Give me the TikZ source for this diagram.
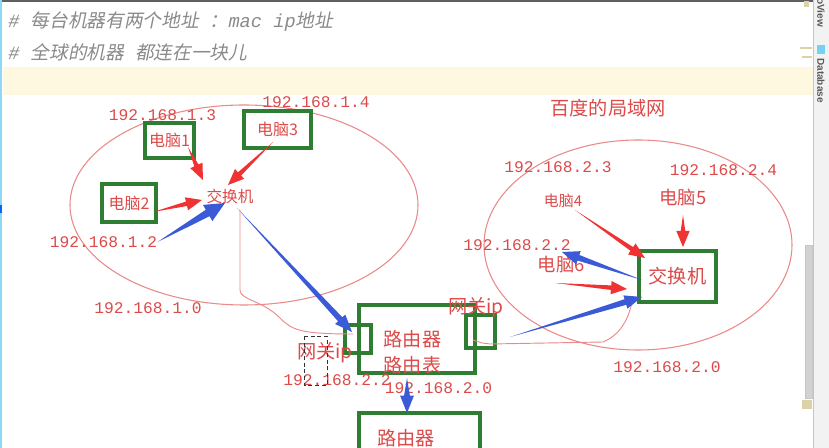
\documentclass[tikz,border=0pt]{standalone}
\usepackage{fontspec}
\setmonofont{Liberation Mono}
\newfontfamily\cjk{Noto Sans CJK SC}
\newfontfamily\cjkit[FakeSlant=0.2]{Noto Sans CJK SC}
\newfontfamily\uifont{Liberation Sans}
\usetikzlibrary{arrows.meta,calc}
\definecolor{cRed}{HTML}{DD4A4A}
\definecolor{cLan}{HTML}{EB8A8A}
\definecolor{cArrRed}{HTML}{F03232}
\definecolor{cArrBlue}{HTML}{3A5AD8}
\definecolor{cGreen}{HTML}{2E7D32}
\definecolor{cNote}{HTML}{8A8A8A}
\definecolor{cLine}{HTML}{FFF8E1}
\definecolor{cCyan}{HTML}{8FD8F5}
\definecolor{cSide}{HTML}{F2F2F2}
\definecolor{cTan}{HTML}{DCD2A8}

\begin{document}
\begin{tikzpicture}[
  x=0.75pt, y=-0.75pt,
  note/.style={anchor=west, inner sep=0pt, text=cNote,
               font=\ttfamily\itshape\fontsize{14}{16}\selectfont},
  lbl/.style={inner sep=0pt, text=cRed, font=\cjk\fontsize{#1}{#1}\selectfont},
  lbl/.default=14.4,
  ip/.style={inner sep=0pt, text=cRed, font=\ttfamily\fontsize{12.2}{14}\selectfont},
  box/.style={draw=cGreen, line width=2.4pt, inner sep=0pt},
  lan/.style={draw=cLan, line width=0.8pt},
  wire/.style={draw=cLan, line width=0.7pt},
  taper/.style n args={4}{fill=#1, to path={
      -- ($(\tikztotarget)!#2!(\tikztostart)!#4!90:(\tikztotarget)$)
      -- ($(\tikztotarget)!#2!(\tikztostart)!#3!90:(\tikztotarget)$)
      -- (\tikztotarget)
      -- ($(\tikztotarget)!#2!(\tikztostart)!#3!-90:(\tikztotarget)$)
      -- ($(\tikztotarget)!#2!(\tikztostart)!#4!-90:(\tikztotarget)$)
      -- cycle}},
  rarr/.style={taper={cArrRed}{12pt}{5pt}{1.7pt}},
  barr/.style={taper={cArrBlue}{13pt}{5.2pt}{2.2pt}},
  bigbarr/.style={taper={cArrBlue}{15pt}{7pt}{2.8pt}},
]
\useasboundingbox (0,0) rectangle (829,448);
\clip (0,0) rectangle (829,448);

% ---- editor window ----
\fill[white] (0,0) rectangle (829,448);
\fill[cLine] (3,67) rectangle (813,95);
\fill[gray!75!black] (0,0) rectangle (829,2);
\fill[cCyan] (0,0) rectangle (2,448);
\fill[blue!60!cyan] (0,205) rectangle (2,213);
\fill[cSide] (813,0) rectangle (829,448);
\draw[gray!45] (813,0) -- (813,448);
\fill[gray!35, draw=gray!45] (805,245) rectangle (812,398);
\fill[cTan] (802,400) rectangle (812,409);
\fill[cTan] (804,1) rectangle (809,7);
\draw[cTan, line width=0.8pt] (800,48) -- (812,48) (802,57) -- (812,57);
\fill[cyan!55] (817,45) rectangle (825,54);
\node[rotate=-90, anchor=west, inner sep=0pt, text=gray!70!black,
      font=\uifont\bfseries\fontsize{7.5}{8}\selectfont] (tabA) at (821,-2) {oView};
\node[rotate=-90, anchor=west, inner sep=0pt, text=gray!70!black,
      font=\uifont\bfseries\fontsize{7.5}{8}\selectfont] (tabB) at (821,58) {Database};

\node[note] (note1) at (8,22)
  {\# {\cjkit\upshape 每台机器有两个地址} {\cjkit\upshape ：}mac ip{\cjkit\upshape 地址}};
\node[note] (note2) at (8,52)
  {\# {\cjkit\upshape 全球的机器} {\cjkit\upshape 都连在一块儿}};

% ---- left LAN ----
\draw[lan] (244,205) ellipse [x radius=130.5pt, y radius=75pt];
\node[box, minimum width=36.75pt, minimum height=26.25pt, lbl=12] (pc1) at (169.5,140.5) {电脑1};
\node[box, minimum width=50.25pt, minimum height=27.75pt, lbl=12] (pc3) at (277.5,129.5) {电脑3};
\node[box, minimum width=40.5pt, minimum height=28.5pt, lbl=12] (pc2) at (129,203) {电脑2};
\node[lbl=11.75] (sw1) at (230,196) {交换机};
\node[ip] (ip13) at (162.5,115) {192.168.1.3};
\node[ip] (ip14) at (316,102) {192.168.1.4};
\node[ip] (ip12) at (103.5,242) {192.168.1.2};
\node[ip] (ip10) at (148,308) {192.168.1.0};

% ---- right LAN ----
\draw[lan] (638,245) ellipse [x radius=115.5pt, y radius=78.75pt];
\node[lbl] (baidu) at (608,108) {百度的局域网};
\node[ip] (ip23) at (558,167) {192.168.2.3};
\node[ip] (ip24) at (723.5,170) {192.168.2.4};
\node[lbl=11.2] (pc4) at (563,201) {电脑4};
\node[lbl=13.8] (pc5) at (683,198) {电脑5};
\node[ip] (ip22) at (517,245) {192.168.2.2};
\node[lbl=13.8] (pc6) at (561.5,265) {电脑6};
\node[box, minimum width=57.75pt, minimum height=38.25pt, lbl] (sw2) at (677.5,276.5) {交换机};
\node[ip] (ip20) at (667,367) {192.168.2.0};

% ---- routers ----
\node[box, minimum width=87pt, minimum height=51pt] (rt) at (417,339) {};
\node[lbl, align=center, font=\cjk\fontsize{14.4}{19.5}\selectfont] (rtname) at (412.5,352) {路由器\\路由表};
\node[box, minimum width=19.5pt, minimum height=21pt] (gwL) at (358,339) {};
\node[box, minimum width=21.75pt, minimum height=24.75pt] (gwR) at (480.5,331.5) {};
\node[lbl] (gwLname) at (325,353) {网关ip};
\node[lbl] (gwRname) at (476,308) {网关ip};
\node[ip] (ipgw) at (337,380) {192.168.2.2};
\node[ip] (iprt) at (438.5,388) {192.168.2.0};
\draw[black!80, line width=0.5pt, dash pattern=on 3pt off 2pt] (304,336) rectangle (327,385);
\node[box, minimum width=90.75pt, minimum height=40.5pt] (rt2) at (419.5,440) {};
\node[lbl] (rt2name) at (406,438) {路由器};

% ---- hand drawn wires ----
\draw[wire] ([shift={(10,14)}]sw1.center) -- ++(0,80)
  .. controls +(0,10) and (262,300) .. (280,318)
  .. controls (292,330) and (300,334) .. ([shift={(-5,-5)}]gwL.center);
\draw[wire] ([shift={(-7.5,8.5)}]gwR.center) -- (482,343) -- (490,344) -- (603,342)
  .. controls (618,336) and (628,322) .. ([shift={(-45.5,25.5)}]sw2.center);

% ---- arrows ----
\fill[rarr] ([shift={(18.5,6.5)}]pc1.center) to ([shift={(-27,-16)}]sw1.center);
\fill[rarr] ([shift={(-4.5,12.5)}]pc3.center) to ([shift={(-2,-11)}]sw1.center);
\fill[rarr] ([shift={(24,9)}]pc2.center) to ([shift={(-28,4)}]sw1.center);
\fill[bigbarr] (ip12.east) to ([shift={(-5,7)}]sw1.center);
\fill[barr] ([shift={(7,12)}]sw1.center) to ([shift={(-6,-7)}]gwL.center);

\fill[rarr] ([shift={(12,9)}]pc4.center) to ([shift={(-32.5,-18.5)}]sw2.center);
\fill[rarr] ([shift={(0,17)}]pc5.center) to ([shift={(5.5,-29.5)}]sw2.center);
\fill[barr] ([shift={(-35.5,3.5)}]sw2.center) to ([shift={(45,7)}]ip22.center);
\fill[rarr] ([shift={(-6.5,18)}]pc6.center) to ([shift={(-50.5,12.5)}]sw2.center);
\fill[barr] ([shift={(29.5,5.5)}]gwR.center) to ([shift={(-35.5,20.5)}]sw2.center);
\fill[barr] ([shift={(-10,39)}]rt.center) to ([shift={(-12.5,-27)}]rt2.center);

\end{tikzpicture}
\end{document}
